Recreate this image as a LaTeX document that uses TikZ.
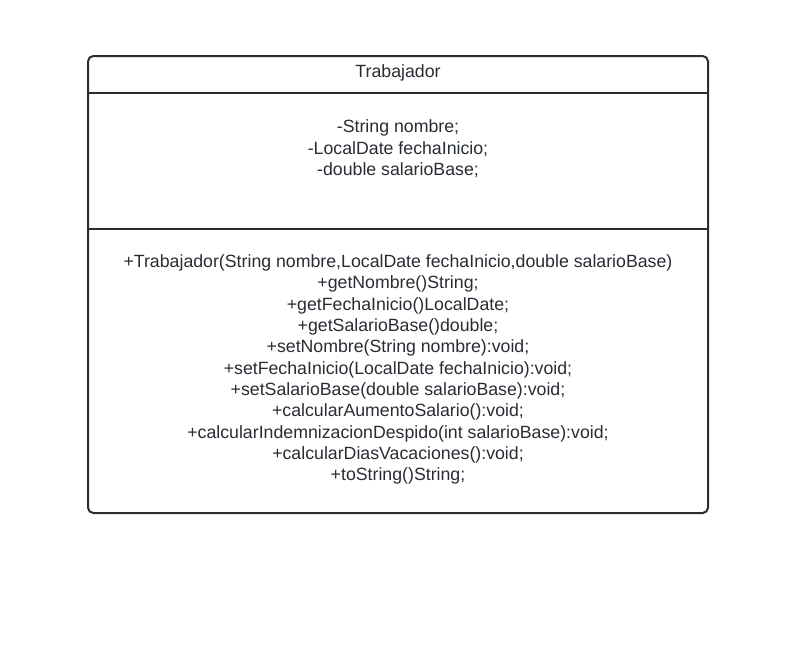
\documentclass[tikz,border=0pt]{standalone}
\usepackage{fontspec}
\setmainfont{Liberation Sans}
\usetikzlibrary{positioning}
\definecolor{umlink}{HTML}{282C33}
\begin{document}
\begin{tikzpicture}[x=0.75pt,y=-0.75pt,
    box line/.style={draw=umlink,line width=1.5pt},
    uml text/.style={text=umlink,align=center,font=\fontsize{13.3}{16}\selectfont,inner sep=0pt}]
    \useasboundingbox (0,0) rectangle (795,646);
    % class box
    \draw[box line,rounded corners=4pt] (88,56) rectangle (708,513);
    \coordinate (h1) at (88,93);
    \coordinate (h2) at (708,93);
    \coordinate (m1) at (88,229);
    \coordinate (m2) at (708,229);
    \path[box line] (h1) edge (h2);
    \path[box line] (m1) edge (m2);
    % texts
    \node[uml text] (name) at (398,73) {Trabajador};
    \node[uml text] (attrs) at (398,149) {-String nombre;\\-LocalDate fechaInicio;\\-double salarioBase;};
    \node[uml text] (ops) at (398,369.5) {+Trabajador(String nombre,LocalDate fechaInicio,double salarioBase)\\
      +getNombre()String;\\
      +getFechaInicio()LocalDate;\\
      +getSalarioBase()double;\\
      +setNombre(String nombre):void;\\
      +setFechaInicio(LocalDate fechaInicio):void;\\
      +setSalarioBase(double salarioBase):void;\\
      +calcularAumentoSalario():void;\\
      +calcularIndemnizacionDespido(int salarioBase):void;\\
      +calcularDiasVacaciones():void;\\
      +toString()String;};
\end{tikzpicture}
\end{document}
